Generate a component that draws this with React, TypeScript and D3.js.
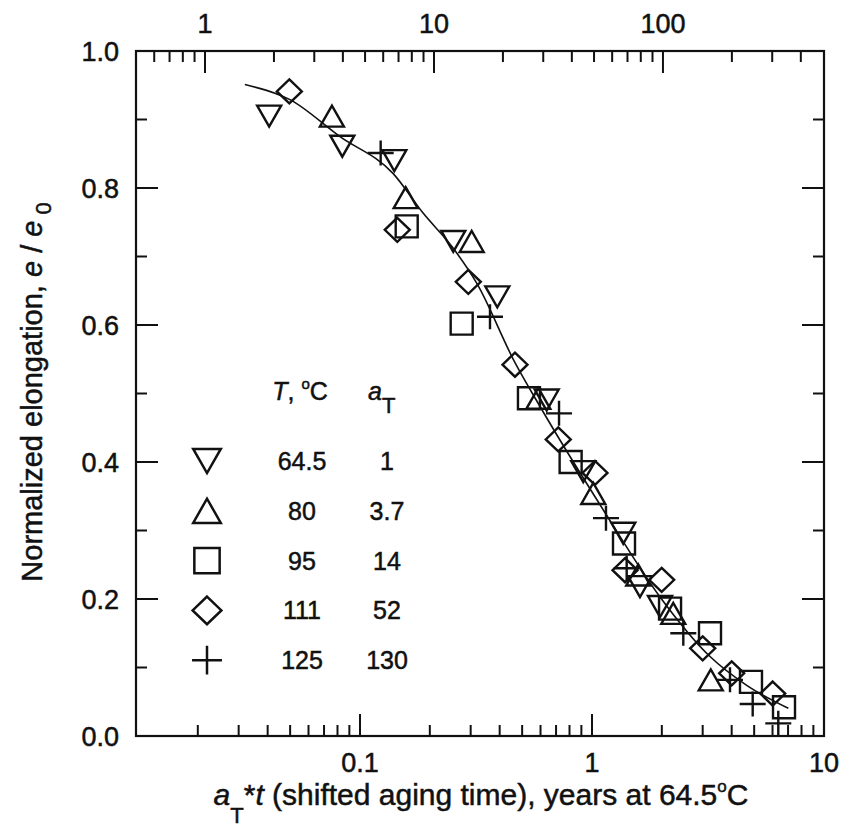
import React from 'react';
import * as d3 from 'd3';

// ---- data (shifted aging time in years, normalized elongation) ----
const t645X = [0.0406, 0.0839, 0.1406, 0.2524, 0.3907, 0.6378, 0.917, 1.364, 1.61, 1.964];
const t645Y = [0.905, 0.861, 0.840, 0.722, 0.641, 0.4905, 0.386, 0.296, 0.218, 0.189];

const t80X = [0.0757, 0.1574, 0.303, 0.587, 1.013, 1.583, 2.24, 3.25];
const t80Y = [0.905, 0.786, 0.722, 0.493, 0.354, 0.235, 0.179, 0.082];

const t95X = [0.159, 0.2744, 0.535, 0.809, 1.374, 2.17, 3.226, 4.845, 6.724];
const t95Y = [0.744, 0.602, 0.493, 0.400, 0.281, 0.186, 0.150, 0.079, 0.042];

const t111X = [0.0496, 0.1448, 0.293, 0.4657, 0.7155, 1.03, 1.388, 1.997, 3.0, 4.0, 6.01];
const t111Y = [0.941, 0.739, 0.663, 0.542, 0.433, 0.384, 0.242, 0.228, 0.128, 0.0915, 0.062];

const t125X = [0.1228, 0.3634, 0.721, 1.149, 1.411, 2.475, 3.934, 4.928, 6.353];
const t125Y = [0.851, 0.612, 0.471, 0.318, 0.245, 0.150, 0.082, 0.0467, 0.0185];

const fitX = [0.0319, 0.0499, 0.082, 0.1391, 0.1875, 0.2524, 0.3185, 0.4657, 0.597, 1.119, 1.964, 3.226, 4.644, 7.02];
const fitY = [0.951, 0.929, 0.875, 0.821, 0.763, 0.712, 0.661, 0.545, 0.481, 0.33, 0.203, 0.116, 0.074, 0.0404];

const legendTemps = ['64.5', '80', '95', '111', '125'];
const legendAT = ['1', '3.7', '14', '52', '130'];
const legendShapes = ['invtri', 'tri', 'square', 'diamond', 'plus'];

const bottomMajor = [0.1, 1, 10];
const bottomMajorLabels = ['0.1', '1', '10'];
const bottomMinor = [0.02, 0.03, 0.04, 0.05, 0.06, 0.07, 0.08, 0.09, 0.2, 0.3, 0.4, 0.5, 0.6, 0.7, 0.8, 0.9, 2, 3, 4, 5, 6, 7, 8, 9];
const topMajor = [1, 10, 100];
const topMajorLabels = ['1', '10', '100'];
const topMinor = [0.6, 0.7, 0.8, 0.9, 2, 3, 4, 5, 6, 7, 8, 9, 20, 30, 40, 50, 60, 70, 80, 90, 200, 300, 400];
const yMajor = [0, 0.2, 0.4, 0.6, 0.8, 1.0];
const yMinor = [0.1, 0.3, 0.5, 0.7, 0.9];

// ---- layout ----
const W = 844, H = 832;
const L = 136, R = 824, T = 51, B = 736;
const INK = '#111';
const FONT = 'Arial, "Liberation Sans", Helvetica, sans-serif';

const x = d3.scaleLog().domain([0.01083, 10]).range([L, R]);
const xTop = d3.scaleLog().domain([0.4995, 505]).range([L, R]);
const y = d3.scaleLinear().domain([0, 1]).range([B, T]);

function shapePath(kind: string, cx: number, cy: number, s: number): string {
  if (kind === 'invtri') {
    const w = 24 * s, h = 21 * s;
    return `M${cx - w / 2},${cy - h / 2}L${cx + w / 2},${cy - h / 2}L${cx},${cy + h / 2}Z`;
  }
  if (kind === 'tri') {
    const w = 24 * s, h = 21 * s;
    return `M${cx - w / 2},${cy + h / 2}L${cx + w / 2},${cy + h / 2}L${cx},${cy - h / 2}Z`;
  }
  if (kind === 'square') {
    const a = 22 * s;
    return `M${cx - a / 2},${cy - a / 2}h${a}v${a}h${-a}Z`;
  }
  if (kind === 'diamond') {
    const w = 25 * s, h = 24 * s;
    return `M${cx},${cy - h / 2}L${cx + w / 2},${cy}L${cx},${cy + h / 2}L${cx - w / 2},${cy}Z`;
  }
  const w = 26 * s, h = 25 * s;
  return `M${cx - w / 2},${cy}H${cx + w / 2}M${cx},${cy - h / 2}V${cy + h / 2}`;
}

const seriesList = [
  { kind: 'invtri', xs: t645X, ys: t645Y },
  { kind: 'tri', xs: t80X, ys: t80Y },
  { kind: 'square', xs: t95X, ys: t95Y },
  { kind: 'diamond', xs: t111X, ys: t111Y },
  { kind: 'plus', xs: t125X, ys: t125Y },
];

export default function App() {
  const fitPts: [number, number][] = fitX.map((v, i) => [x(v), y(fitY[i])]);
  const line = d3.line().curve(d3.curveMonotoneX)(fitPts) || '';
  const MAJ = 22, MIN = 11;
  const textStroke = { stroke: INK, strokeWidth: 0.5 };

  return (
    <svg width={W} height={H} viewBox={`0 0 ${W} ${H}`}
      style={{ position: 'absolute', left: 0, top: 0, background: '#fff' }}
      fontFamily={FONT}>
      <rect x={0} y={0} width={W} height={H} fill="#fff" />

      {/* ticks */}
      <g stroke={INK} strokeWidth={2}>
        {bottomMajor.map((v) => <line key={'bM' + v} x1={x(v)} x2={x(v)} y1={B} y2={B - MAJ} />)}
        {bottomMinor.map((v) => <line key={'bm' + v} x1={x(v)} x2={x(v)} y1={B} y2={B - MIN} />)}
        {topMajor.map((v) => <line key={'tM' + v} x1={xTop(v)} x2={xTop(v)} y1={T} y2={T + MAJ} />)}
        {topMinor.map((v) => <line key={'tm' + v} x1={xTop(v)} x2={xTop(v)} y1={T} y2={T + MIN} />)}
        {yMajor.map((v) => <line key={'lM' + v} x1={L} x2={L + MAJ} y1={y(v)} y2={y(v)} />)}
        {yMinor.map((v) => <line key={'lm' + v} x1={L} x2={L + MIN} y1={y(v)} y2={y(v)} />)}
        {yMajor.map((v) => <line key={'rM' + v} x1={R} x2={R - MAJ} y1={y(v)} y2={y(v)} />)}
        {yMinor.map((v) => <line key={'rm' + v} x1={R} x2={R - MIN} y1={y(v)} y2={y(v)} />)}
      </g>
      <rect x={L} y={T} width={R - L} height={B - T} fill="none" stroke={INK} strokeWidth={2.2} />

      {/* tick labels */}
      <g fill={INK} fontSize={27} textAnchor="middle" {...textStroke}>
        {bottomMajor.map((v, i) => <text key={'bl' + v} x={x(v)} y={772}>{bottomMajorLabels[i]}</text>)}
        {topMajor.map((v, i) => <text key={'tl' + v} x={xTop(v)} y={33}>{topMajorLabels[i]}</text>)}
      </g>
      <g fill={INK} fontSize={27} textAnchor="end" {...textStroke}>
        {yMajor.map((v) => <text key={'yl' + v} x={119} y={y(v) + 9.5}>{d3.format('.1f')(v)}</text>)}
      </g>

      {/* fit curve */}
      <path d={line} fill="none" stroke={INK} strokeWidth={1.6} />

      {/* data */}
      <g fill="none" stroke={INK} strokeWidth={2.4}>
        {seriesList.map((s) => s.xs.map((v, i) => (
          <path key={s.kind + i} d={shapePath(s.kind, x(v), y(s.ys[i]), 1)} />
        )))}
      </g>

      {/* legend */}
      <g fill={INK} fontSize={25} {...textStroke}>
        <text x={300} y={400} textAnchor="middle">
          <tspan fontStyle="italic">T</tspan>
          <tspan>, </tspan>
          <tspan fontSize={15} dy={-11}>o</tspan>
          <tspan dy={11}>C</tspan>
        </text>
        <text x={368} y={400}>
          <tspan fontStyle="italic">a</tspan>
          <tspan fontSize={22} dy={13}>T</tspan>
        </text>
        {legendTemps.map((t, i) => {
          const cy = 461 + i * 49.8;
          return (
            <g key={'lg' + i}>
              <path d={shapePath(legendShapes[i], 207, cy, 1.15)} fill="none" stroke={INK} strokeWidth={2.5} />
              <text x={302} y={cy + 9} textAnchor="middle">{t}</text>
              <text x={387} y={cy + 9} textAnchor="middle">{legendAT[i]}</text>
            </g>
          );
        })}
      </g>

      {/* axis titles */}
      <text x={481} y={805} textAnchor="middle" fill={INK} fontSize={30} {...textStroke}>
        <tspan fontStyle="italic">a</tspan>
        <tspan fontSize={22} dy={18}>T</tspan>
        <tspan dy={-18}>*</tspan>
        <tspan fontStyle="italic">t</tspan>
        <tspan> (shifted aging time), years at 64.5</tspan>
        <tspan fontSize={17} dy={-13}>o</tspan>
        <tspan dy={13}>C</tspan>
      </text>
      <text transform={`translate(42, 392) rotate(-90)`} textAnchor="middle" fill={INK} fontSize={29} {...textStroke}>
        <tspan>Normalized elongation, </tspan>
        <tspan fontStyle="italic">e</tspan>
        <tspan> / </tspan>
        <tspan fontStyle="italic">e</tspan>
        <tspan fontSize={22} dx={6} dy={9}>0</tspan>
      </text>
    </svg>
  );
}
